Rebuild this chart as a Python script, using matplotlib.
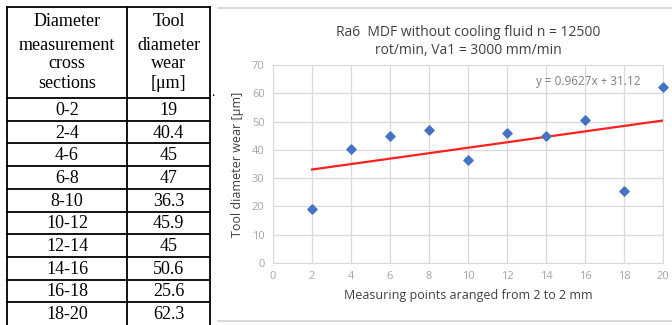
import numpy as np
import matplotlib.pyplot as plt
from matplotlib.lines import Line2D

# table data
sections = ["0-2", "2-4", "4-6", "6-8", "8-10", "10-12", "12-14", "14-16", "16-18", "18-20"]
wear_text = ["19", "40.4", "45", "47", "36.3", "45.9", "45", "50.6", "25.6", "62.3"]

# chart data
x_points = [2, 4, 6, 8, 10, 12, 14, 16, 18, 20]
wear = [19, 40.4, 45, 47, 36.3, 45.9, 45, 50.6, 25.6, 62.3]
x_ticks = [0, 2, 4, 6, 8, 10, 12, 14, 16, 18, 20]
y_ticks = [0, 10, 20, 30, 40, 50, 60, 70]
trend_label = "y = 0.9627x + 31.12"

W, H = 672, 325
fig = plt.figure(figsize=(W / 100, H / 100), dpi=100)

# --- table drawn in pixel coordinates ---
tab = fig.add_axes([0, 0, 1, 1])
tab.set_xlim(0, W)
tab.set_ylim(H, 0)
tab.axis("off")

left, mid, right = 7, 127, 210
top, head_bot = 7, 98
row_h = (H - head_bot) / len(sections)
serif = ["Liberation Serif", "DejaVu Serif"]
lw = 1.3

for xx in (left, mid, right):
    tab.add_line(Line2D([xx, xx], [top, H], color="black", lw=lw))
tab.add_line(Line2D([left, right], [top, top], color="black", lw=lw))
tab.add_line(Line2D([left, right], [head_bot, head_bot], color="black", lw=lw))

head_left = ["Diameter", "measurement", "cross", "sections"]
head_right = ["Tool", "diameter", "wear", "[\u03bcm]"]
head_y = [22, 45, 63, 84]
for a, b, yy in zip(head_left, head_right, head_y):
    tab.text((left + mid) / 2, yy, a, ha="center", va="center", fontsize=13, family=serif)
    tab.text((mid + right) / 2, yy, b, ha="center", va="center", fontsize=13, family=serif)
tab.text(213, 92, ".", ha="center", va="center", fontsize=10, family=serif)

for i, (s, w) in enumerate(zip(sections, wear_text)):
    y0 = head_bot + i * row_h
    if i > 0:
        tab.add_line(Line2D([left, right], [y0, y0], color="black", lw=lw))
    yc = y0 + row_h / 2 + 1
    tab.text((left + mid) / 2, yc, s, ha="center", va="center", fontsize=13, family=serif)
    tab.text((mid + right) / 2, yc, w, ha="center", va="center", fontsize=13, family=serif)

# chart frame lines
tab.add_line(Line2D([218, W], [8, 8], color="#d4d4d4", lw=1.2))
tab.add_line(Line2D([218, W], [321, 321], color="#d4d4d4", lw=1.2))

# --- scatter chart ---
sans = ["Open Sans", "DejaVu Sans"]
ax = fig.add_axes([273 / W, (H - 263) / H, (663 - 273) / W, (263 - 65) / H])
ax.set_xlim(0, 20)
ax.set_ylim(0, 70)
ax.set_xticks(x_ticks)
ax.set_yticks(y_ticks)
ax.grid(True, color="#d9d9d9", lw=0.9)
ax.set_axisbelow(True)
for sp in ax.spines.values():
    sp.set_color("#d9d9d9")
ax.tick_params(length=0, labelsize=8, labelcolor="#a6a6a6", pad=6)
for lab in ax.get_xticklabels() + ax.get_yticklabels():
    lab.set_family(sans)

coef = np.polyfit(x_points, wear, 1)
xs = np.array([x_points[0], x_points[-1]])
ax.plot(xs, np.polyval(coef, xs), color="#ff2020", lw=1.6, zorder=2)
ax.scatter(x_points, wear, marker="D", s=22, color="#4472c4", zorder=3, clip_on=False)

ax.text(16.15, 64.2, trend_label, ha="center", va="center", fontsize=8.5, color="#808080", family=sans)
ax.set_xlabel("Measuring points aranged from 2 to 2 mm", fontsize=9, color="#404040", family=sans, labelpad=5)
ax.set_ylabel("Tool diameter wear [\u03bcm]", fontsize=9, color="#404040", family=sans, labelpad=6)
ax.set_title("Ra6  MDF without cooling fluid n = 12500\nrot/min, Va1 = 3000 mm/min",
             fontsize=10, color="#404040", family=sans, pad=8, linespacing=1.3)

fig.savefig("out.png", dpi=100)
